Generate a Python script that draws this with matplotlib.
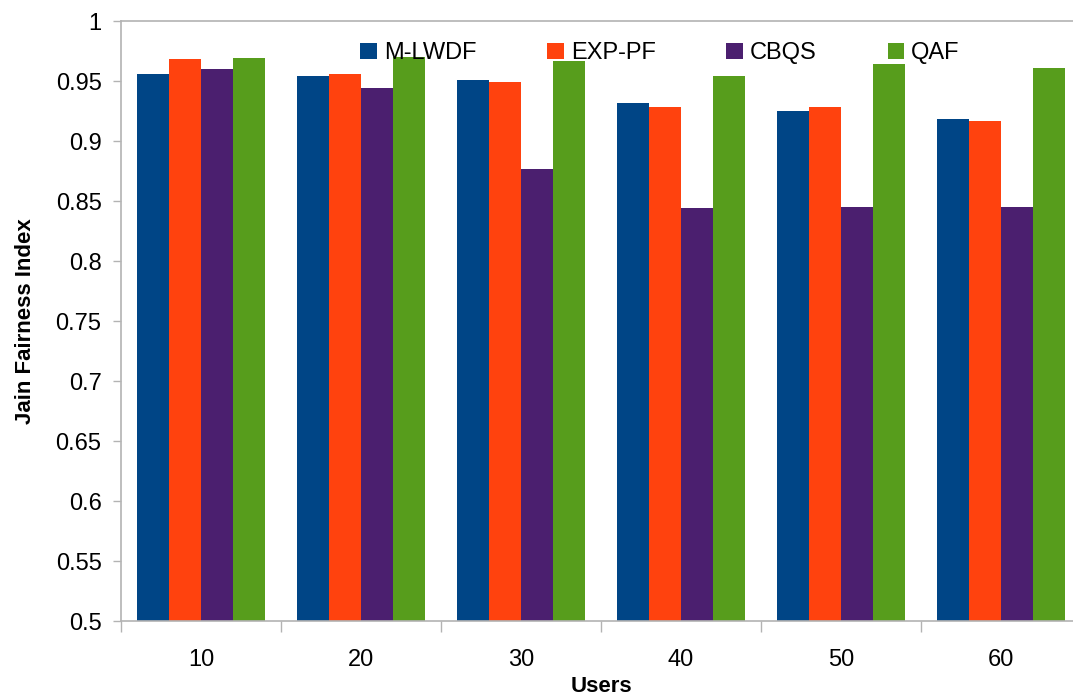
import numpy as np
import matplotlib
matplotlib.use("Agg")
import matplotlib.pyplot as plt

plt.rcParams['font.family'] = ['Liberation Sans', 'DejaVu Sans']

users = ["10", "20", "30", "40", "50", "60"]
mlwdf = [0.956, 0.954, 0.951, 0.932, 0.925, 0.918]
exppf = [0.968, 0.956, 0.949, 0.928, 0.928, 0.917]
cbqs = [0.960, 0.944, 0.877, 0.844, 0.845, 0.845]
qaf = [0.969, 0.970, 0.967, 0.954, 0.964, 0.961]

series = [("M-LWDF", mlwdf, "#004586"),
          ("EXP-PF", exppf, "#ff420e"),
          ("CBQS", cbqs, "#4b1f6f"),
          ("QAF", qaf, "#579d1c")]

grey = "#b3b3b3"

fig = plt.figure(figsize=(10.73, 6.97), dpi=100)
ax = fig.add_axes([121/1073, 1 - 621/697, 960/1073, 600/697])

x = np.arange(len(users))
w = 0.2
for i, (name, vals, col) in enumerate(series):
    ax.bar(x + (i - 1.5)*w, vals, w, color=col, label=name, zorder=2)

ax.set_xlim(-0.5, len(users) - 0.5)
ax.set_ylim(0.5, 1.0)
ax.set_yticks(np.arange(0.5, 1.0001, 0.05))
ax.set_yticklabels(["0.5", "0.55", "0.6", "0.65", "0.7", "0.75", "0.8",
                    "0.85", "0.9", "0.95", "1"])
ax.set_xticks(x)
ax.set_xticklabels(users)
ax.set_xticks(np.arange(-0.5, len(users)), minor=True)
ax.tick_params(axis='x', which='major', length=0, pad=20, labelsize=17)
ax.tick_params(axis='x', which='minor', length=8, color=grey, width=1)
ax.tick_params(axis='y', length=6, color=grey, width=1, pad=8, labelsize=17)

for s in ax.spines.values():
    s.set_color(grey)
    s.set_linewidth(1.2)

ax.set_xlabel("Users", fontsize=16, fontweight='bold', labelpad=4)
ax.set_ylabel("Jain Fairness Index", fontsize=16, fontweight='bold', labelpad=14)

ax.legend(loc='upper left', bbox_to_anchor=(0.227, 1.0), ncol=4, frameon=False,
          fontsize=17, handlelength=0.7, handleheight=0.7, handletextpad=0.3,
          columnspacing=3.0)

fig.savefig("out.png", dpi=100)
